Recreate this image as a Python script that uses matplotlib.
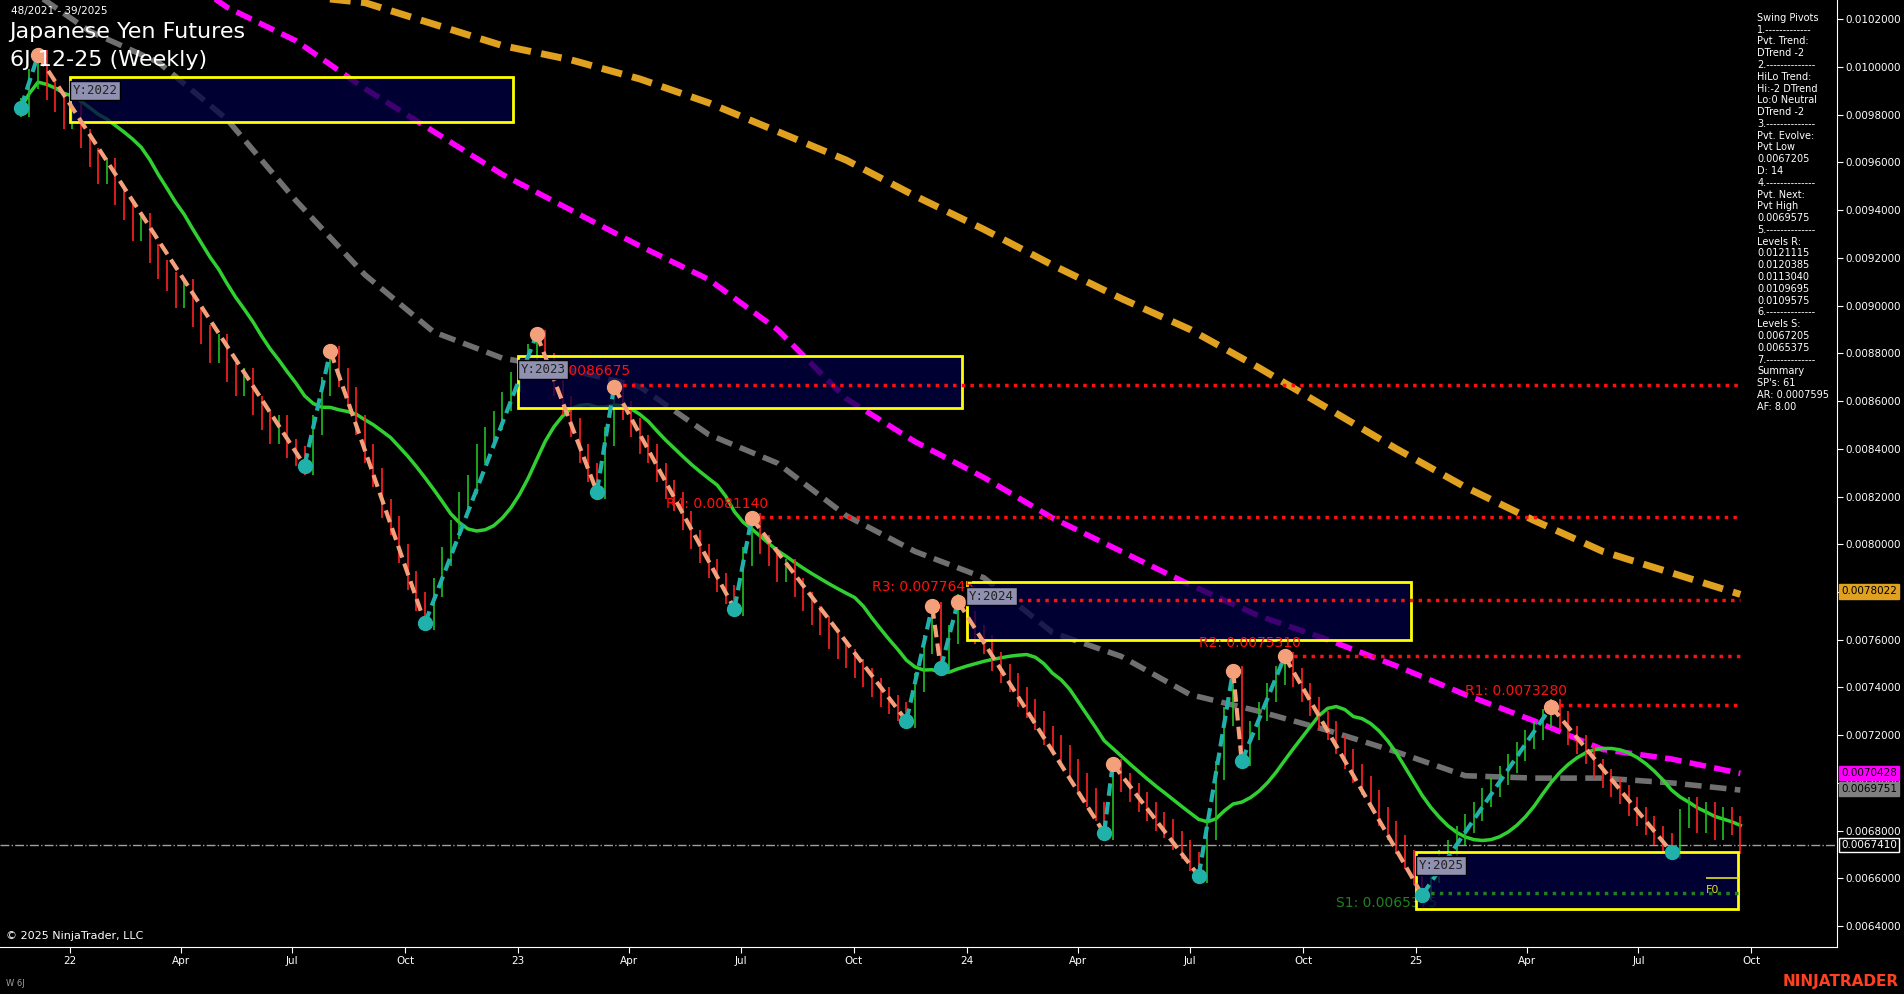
import matplotlib
matplotlib.use("Agg")
import matplotlib.pyplot as plt
import matplotlib.dates as mdates
import numpy as np
import pandas as pd

# weekly closes, in units of 1e-5 (week 47/2021 .. 39/2025)
closes = [983, 995, 1003, 990, 985, 978, 981, 970, 962, 955, 958, 946, 940, 931, 935, 922,
          915, 910, 903, 907, 895, 888, 880, 884, 872, 866, 870, 858, 852, 846, 850, 840,
          837, 833, 850, 866, 879, 870, 862, 850, 838, 828, 815, 808, 796, 785, 776, 768,
          782, 795, 806, 818, 825, 838, 845, 852, 860, 868, 874, 880, 886, 876, 866, 858,
          849, 838, 830, 823, 845, 864, 856, 849, 842, 838, 830, 823, 818, 810, 802, 796,
          790, 784, 779, 774, 795, 809, 800, 795, 788, 790, 782, 776, 770, 766, 760, 756,
          752, 748, 744, 740, 736, 733, 730, 727, 742, 758, 772, 750, 762, 775, 768, 762,
          758, 751, 746, 742, 736, 731, 726, 720, 716, 712, 706, 700, 694, 688, 680, 706,
          700, 696, 692, 688, 684, 681, 676, 672, 667, 662, 680, 705, 728, 745, 711, 722,
          730, 738, 745, 751, 744, 738, 732, 726, 722, 716, 710, 704, 699, 693, 686, 680,
          674, 668, 661, 655, 662, 668, 672, 678, 683, 688, 694, 698, 703, 708, 713, 718,
          722, 727, 731, 726, 720, 716, 712, 706, 702, 698, 695, 690, 686, 682, 678, 675,
          672, 685, 690, 683, 688, 680, 686, 682, 674]

# moving averages sampled every 8 weeks (units 1e-5)
ma_orange = [1045, 1040, 1036, 1033, 1030, 1027, 1018, 1009, 1003, 995, 985, 973, 961,
             946, 932, 917, 903, 890, 874, 857, 840, 824, 810, 797, 788, 779]
ma_magenta = [1080, 1064, 1045, 1025, 1011, 991, 973, 955, 940, 925, 911, 890, 861,
              843, 828, 811, 797, 783, 770, 760, 749, 737, 726, 714, 710, 704]
ma_grey = [1035, 1015, 1002, 978, 944, 913, 889, 878, 873, 866, 846, 834, 812,
           797, 786, 763, 753, 737, 730, 722, 713, 703, 702, 702, 700, 697]

# swing pivots: bar index, price (1e-5)
piv_idx = [0, 2, 33, 36, 47, 60, 67, 69, 83, 85, 103, 106, 107, 109, 126, 127, 137, 141,
           142, 147, 163, 178, 192]
piv_val = [983, 1005, 833, 881, 767, 888, 822, 866, 773, 811, 726, 774, 748, 776, 679, 708,
           661, 747, 709, 753, 653, 732, 671]

levels = [("R5: 0.0086675", 0.0086675, 69), ("R4: 0.0081140", 0.0081140, 85),
          ("R3: 0.0077645", 0.0077645, 109), ("R2: 0.0075310", 0.0075310, 147),
          ("R1: 0.0073280", 0.0073280, 178)]

year_boxes = [("Y:2022", "2022-01-01", "2022-12-28", 0.00977, 0.00996),
              ("Y:2023", "2023-01-01", "2023-12-28", 0.00857, 0.00879),
              ("Y:2024", "2024-01-01", "2024-12-28", 0.00760, 0.00784),
              ("Y:2025", "2025-01-01", "2025-09-20", 0.00647, 0.00671)]

panel = ["Swing Pivots", "1.-------------", "Pvt. Trend:", "DTrend -2", "2.--------------",
         "HiLo Trend:", "Hi:-2 DTrend", "Lo:0 Neutral", "DTrend -2", "3.--------------",
         "Pvt. Evolve:", "Pvt Low", "0.0067205", "D: 14", "4.--------------", "Pvt. Next:",
         "Pvt High", "0.0069575", "5.--------------", "Levels R:", "0.0121115", "0.0120385",
         "0.0113040", "0.0109695", "0.0109575", "6.--------------", "Levels S:", "0.0067205",
         "0.0065375", "7.--------------", "Summary", "SP's: 61", "AR: 0.0007595", "AF: 8.00"]

price_tags = [(0.0078022, "#e0a020", "black"), (0.0070428, "#ff00ff", "black"),
              (0.0069751, "#808080", "black"), (0.0067410, "black", "white")]

weeks = pd.date_range("2021-11-22", periods=len(closes), freq="W-MON")
c = np.array(closes) * 1e-5
o = np.r_[c[0], c[:-1]]
green = pd.Series(c).rolling(14, min_periods=1).mean().values

fig = plt.figure(figsize=(19.04, 9.94), dpi=100, facecolor="black")
ax = fig.add_axes([0.0, 0.047, 0.965, 0.953], facecolor="black")

# year boxes
for lab, d0, d1, lo, hi in year_boxes:
    x0, x1 = mdates.date2num(pd.Timestamp(d0)), mdates.date2num(pd.Timestamp(d1))
    ax.add_patch(plt.Rectangle((x0, lo), x1 - x0, hi - lo, facecolor="#000044", alpha=0.75,
                               edgecolor="none", zorder=6))
    ax.add_patch(plt.Rectangle((x0, lo), x1 - x0, hi - lo, facecolor="none",
                               edgecolor="#ffff00", lw=2, zorder=6))
    ax.text(x0 + 2, hi - 0.00003, lab, family="DejaVu Sans Mono", fontsize=9, color="#222222",
            va="top", bbox=dict(facecolor="#9090b0", edgecolor="black", pad=2), zorder=9)

# moving averages
mw = weeks[::8]
ax.plot(mw, np.array(ma_orange) * 1e-5, color="#e0a020", lw=5, ls=(0, (3, 1.5)), zorder=3)
ax.plot(mw, np.array(ma_magenta) * 1e-5, color="#ff00ff", lw=4, ls=(0, (3, 1.5)), zorder=3)
ax.plot(mw, np.array(ma_grey) * 1e-5, color="#707070", lw=4, ls=(0, (3, 1.5)), zorder=3)
ax.plot(weeks, green, color="#30d030", lw=2.5, zorder=4)

# bars
for d, oo, cc in zip(weeks, o, c):
    col = "#ff2020" if cc < oo else "#20c020"
    ax.vlines(d, min(oo, cc) - 0.00004, max(oo, cc) + 0.00004, color=col, lw=1.2, zorder=5)

# resistance levels
xend = mdates.date2num(weeks[-1])
for lab, val, i in levels:
    xs = mdates.date2num(weeks[i])
    ax.hlines(val, xs, xend, color="#ff1010", lw=2.5, ls=(0, (1, 1.5)), zorder=7)
    ax.text(xs - 70, val + 0.00004, lab, color="#ff1010", fontsize=10, zorder=7)
ax.hlines(0.0065375, mdates.date2num(weeks[163]), xend, color="#208020", lw=2.5,
          ls=(0, (1, 1.5)), zorder=7)
ax.text(mdates.date2num(weeks[153]), 0.00648, "S1: 0.0065375", color="#208020", fontsize=10)
ax.axhline(0.0067410, color="#a0a0a0", lw=1, ls="-.", zorder=2)
ax.hlines(0.00660, mdates.date2num(weeks[196]), xend, color="#e0e020", lw=1.2, zorder=7)
ax.text(mdates.date2num(weeks[196]), 0.00654, "F0", color="#e0e020", fontsize=8, zorder=7)

# swing zigzag
px = [weeks[i] for i in piv_idx]
pv = np.array(piv_val) * 1e-5
for k in range(len(px) - 1):
    col = "#20b2aa" if pv[k + 1] > pv[k] else "#f4a07a"
    ax.plot(px[k:k + 2], pv[k:k + 2], color=col, lw=3, ls=(0, (3, 1.5)), zorder=8)
for k in range(len(px)):
    high = pv[k] > pv[k + 1] if k + 1 < len(pv) else pv[k] > pv[k - 1]
    col = "#f4a07a" if high else "#20b2aa"
    ax.plot(px[k], pv[k], "o", ms=10, color=col, zorder=8)

ax.set_xlim(pd.Timestamp("2021-11-05"), pd.Timestamp("2025-12-10"))
ax.set_ylim(0.006311, 0.010281)
ax.yaxis.tick_right()
ax.set_yticks(np.arange(0.0064, 0.01021, 0.0002))
ax.yaxis.set_major_formatter(plt.FuncFormatter(lambda v, p: f"{v:.7f}"))
ax.xaxis.set_major_locator(mdates.MonthLocator(bymonth=[1, 4, 7, 10]))
ax.xaxis.set_major_formatter(plt.FuncFormatter(
    lambda v, p: mdates.num2date(v).strftime("%y") if mdates.num2date(v).month == 1
    else mdates.num2date(v).strftime("%b")))
ax.tick_params(colors="white", labelsize=7.5, length=4, pad=2)
for s in ["top", "left"]:
    ax.spines[s].set_visible(False)
ax.spines["right"].set_color("white")
ax.spines["bottom"].set_color("white")

for val, fc, tc in price_tags:
    ax.text(1.002, val, f"{val:.7f}", transform=ax.get_yaxis_transform(), color=tc,
            fontsize=7.5, va="center", ha="left",
            bbox=dict(facecolor=fc, edgecolor="white" if fc == "black" else fc, pad=1.5),
            zorder=10, clip_on=False)

for j, line in enumerate(panel):
    fig.text(0.923, 0.987 - j * 0.01185, line, color="white", fontsize=7, va="top")

fig.text(0.006, 0.994, "48/2021 - 39/2025", color="white", fontsize=7.5, va="top")
fig.text(0.005, 0.978, "Japanese Yen Futures", color="white", fontsize=16, va="top")
fig.text(0.005, 0.950, "6J 12-25 (Weekly)", color="white", fontsize=16, va="top")
fig.text(0.003, 0.055, "\u00a9 2025 NinjaTrader, LLC", color="white", fontsize=8)
fig.text(0.003, 0.008, "W 6J", color="#a0a0a0", fontsize=6)
fig.text(0.997, 0.008, "NINJATRADER", color="#ff4020", fontsize=11, weight="bold", ha="right")

fig.savefig("out.png", dpi=100, facecolor="black")
